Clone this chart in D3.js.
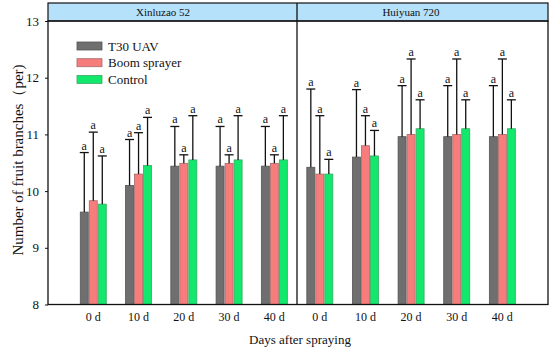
<!DOCTYPE html>
<html>
<head>
<meta charset="utf-8">
<script src="https://cdn.jsdelivr.net/npm/d3@7"></script>
<style>
  body { margin: 0; background: #fff; }
  text { font-family: "Liberation Serif", "DejaVu Serif", serif; fill: #111; }
</style>
</head>
<body>
<div id="chart"></div>
<script>
// data
var days = [0, 10, 20, 30, 40];
var dayLabels = ["0 d", "10 d", "20 d", "30 d", "40 d"];
var seriesNames = ["T30 UAV", "Boom sprayer", "Control"];
var panelNames = ["Xinluzao 52", "Huiyuan 720"];

var xinUav  = [9.63, 10.10, 10.44, 10.44, 10.44];
var xinBoom = [9.83, 10.30, 10.49, 10.49, 10.49];
var xinCtrl = [9.77, 10.45, 10.55, 10.55, 10.55];
var xinUavErr  = [1.05, 0.81, 0.70, 0.70, 0.70];
var xinBoomErr = [1.21, 0.73, 0.15, 0.15, 0.15];
var xinCtrlErr = [0.85, 0.85, 0.78, 0.78, 0.78];

var huiUav  = [10.42, 10.60, 10.96, 10.96, 10.96];
var huiBoom = [10.30, 10.80, 11.00, 11.00, 11.00];
var huiCtrl = [10.30, 10.62, 11.10, 11.10, 11.10];
var huiUavErr  = [1.38, 1.19, 0.90, 0.90, 0.90];
var huiBoomErr = [1.03, 0.53, 1.33, 1.33, 1.33];
var huiCtrlErr = [0.26, 0.45, 0.51, 0.51, 0.51];

var yTicks = [8, 9, 10, 11, 12, 13];
var colors = ["#6f6f6f", "#f77c7c", "#12e86c"];
var strokes = ["#555", "#a86a6a", "#3aa864"];

var panels = [
  { name: panelNames[0], means: [xinUav, xinBoom, xinCtrl], errs: [xinUavErr, xinBoomErr, xinCtrlErr],
    x0: 48, x1: 297, domain: [-10, 45], labelX: 163 },
  { name: panelNames[1], means: [huiUav, huiBoom, huiCtrl], errs: [huiUavErr, huiBoomErr, huiCtrlErr],
    x0: 297, x1: 548, domain: [-5, 50], labelX: 411 }
];

var W = 550, H = 349;
var plotTop = 21, plotBottom = 304.5, headTop = 3;
var svg = d3.select("#chart").append("svg").attr("width", W).attr("height", H);

var y = d3.scaleLinear().domain([8, 13]).range([plotBottom, plotTop]);

// header strip
svg.append("rect").attr("x", 48).attr("y", headTop).attr("width", 500).attr("height", plotTop - headTop)
  .style("fill", "#b5e1fb").style("stroke", "#111").style("stroke-width", 1.2);

var bw = 8, step = 9;

panels.forEach(function (p) {
  var x = d3.scaleLinear().domain(p.domain).range([p.x0, p.x1]);
  var g = svg.append("g");

  g.append("text").attr("x", p.labelX).attr("y", 16).attr("text-anchor", "middle")
    .style("font-size", "11px").text(p.name);

  p.means.forEach(function (vals, s) {
    var d = days.map(function (day, i) { return { day: day, v: vals[i], e: p.errs[s][i] }; });
    var off = (s - 1) * step;
    // bars
    g.selectAll(".bar" + s).data(d).enter().append("rect")
      .attr("x", function (d) { return x(d.day) + off - bw / 2; })
      .attr("y", function (d) { return y(d.v); })
      .attr("width", bw)
      .attr("height", function (d) { return y(8) - y(d.v); })
      .style("fill", colors[s]).style("stroke", strokes[s]).style("stroke-width", 0.8);
    // upper whiskers
    g.selectAll(".err" + s).data(d).enter().append("line")
      .attr("x1", function (d) { return x(d.day) + off; })
      .attr("x2", function (d) { return x(d.day) + off; })
      .attr("y1", function (d) { return y(d.v); })
      .attr("y2", function (d) { return y(d.v + d.e); })
      .style("stroke", "#111").style("stroke-width", 1.3);
    g.selectAll(".cap" + s).data(d).enter().append("line")
      .attr("x1", function (d) { return x(d.day) + off - 4.5; })
      .attr("x2", function (d) { return x(d.day) + off + 4.5; })
      .attr("y1", function (d) { return y(d.v + d.e); })
      .attr("y2", function (d) { return y(d.v + d.e); })
      .style("stroke", "#111").style("stroke-width", 1.3);
    g.selectAll(".sig" + s).data(d).enter().append("text")
      .attr("x", function (d) { return x(d.day) + off; })
      .attr("y", function (d) { return y(d.v + d.e) - 3; })
      .attr("text-anchor", "middle").style("font-size", "12px")
      .text("a");
  });

  // x tick labels
  g.selectAll(".xt").data(days).enter().append("text")
    .attr("x", function (d) { return x(d); })
    .attr("y", 321).attr("text-anchor", "middle").style("font-size", "12px")
    .text(function (d, i) { return dayLabels[i]; });
});

// frame
svg.append("rect").attr("x", 48).attr("y", plotTop).attr("width", 500).attr("height", plotBottom - plotTop)
  .style("fill", "none").style("stroke", "#111").style("stroke-width", 1.3);
svg.append("line").attr("x1", 297).attr("x2", 297).attr("y1", headTop).attr("y2", plotBottom)
  .style("stroke", "#111").style("stroke-width", 1.3);

// y axis
var yAxis = svg.append("g").attr("transform", "translate(48,0)")
  .call(d3.axisLeft(y).tickValues(yTicks).tickFormat(d3.format("d")).tickSize(3).tickPadding(6));
yAxis.select(".domain").remove();
yAxis.selectAll("line").style("stroke", "#111");
yAxis.selectAll("text").style("font-size", "13px").style("font-family", "Liberation Serif, serif");

// axis titles
svg.append("text").attr("transform", "translate(23,160) rotate(-90)")
  .attr("text-anchor", "middle").style("font-size", "15px")
  .text("Number of fruit branches（per)");
svg.append("text").attr("x", 300).attr("y", 344).attr("text-anchor", "middle")
  .style("font-size", "13px").text("Days after spraying");

// legend
var leg = svg.append("g").selectAll("g").data(seriesNames).enter().append("g")
  .attr("transform", function (d, i) { return "translate(77," + (42 + i * 16.7) + ")"; });
leg.append("rect").attr("width", 25).attr("height", 8)
  .style("fill", function (d, i) { return colors[i]; })
  .style("stroke", function (d, i) { return strokes[i]; }).style("stroke-width", 0.8);
leg.append("text").attr("x", 31).attr("y", 8.5).style("font-size", "13px")
  .text(function (d) { return d; });
</script>
</body>
</html>
